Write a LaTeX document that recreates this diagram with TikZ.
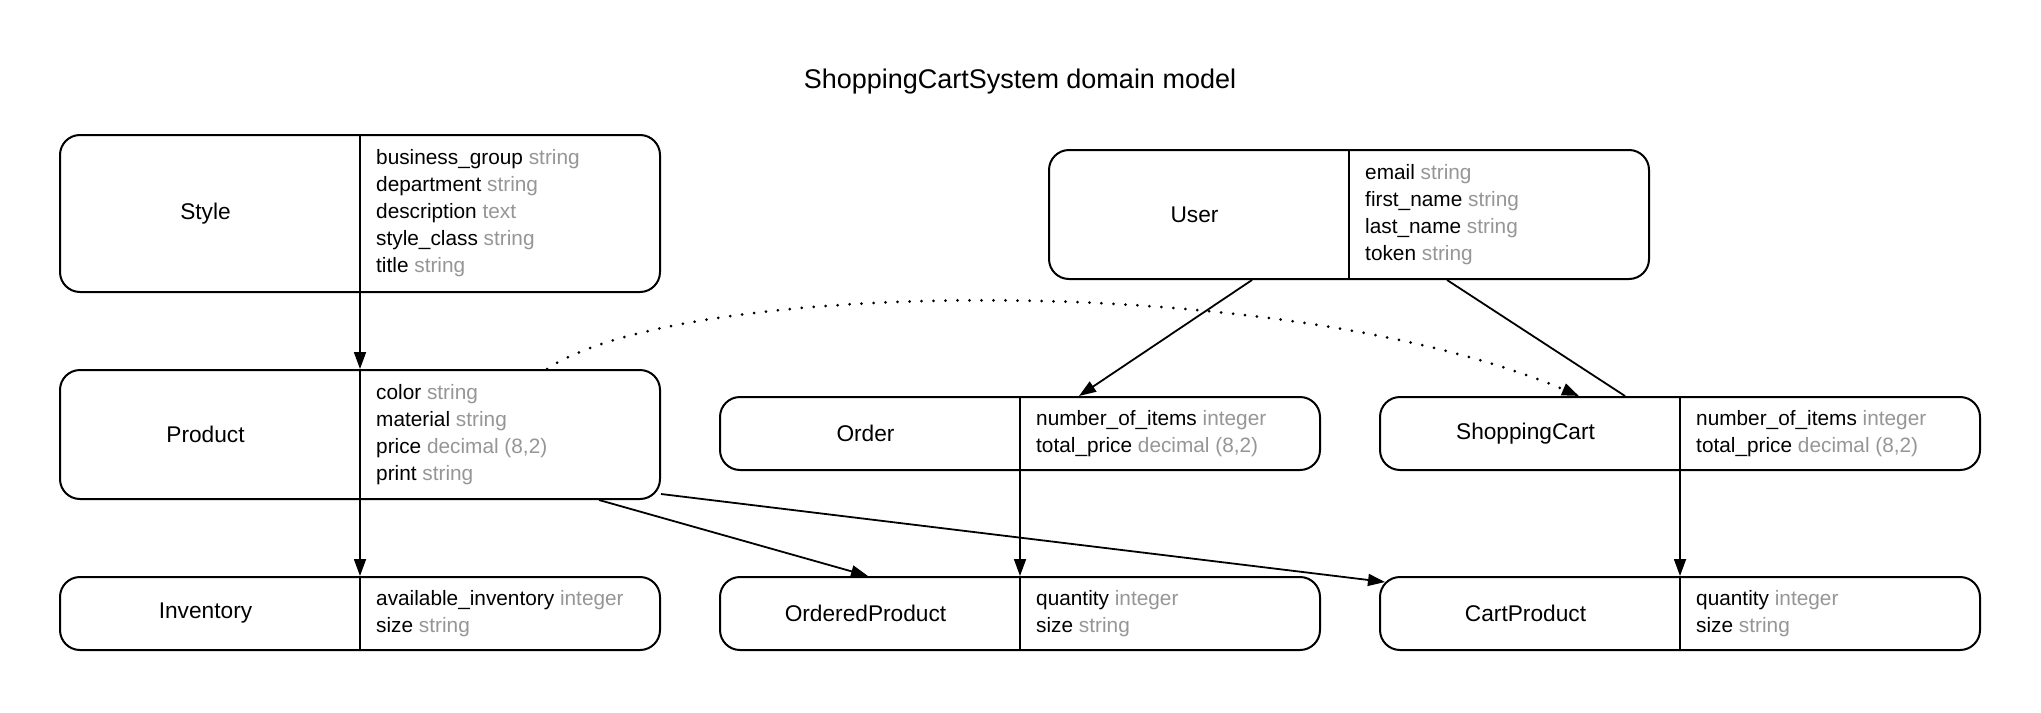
\documentclass[tikz,border=0pt]{standalone}
\usepackage{fontspec}
\setmainfont{Liberation Sans}
\usetikzlibrary{arrows.meta,calc}
\definecolor{typegray}{RGB}{150,150,150}
\newcommand\attr[2]{#1 {\color{typegray}#2}}
\newcommand\umlclass[5]{%
  \node[classbox, minimum height=#3] (#1) at (#2) {};
  \draw[divider] (#1.north) -- (#1.south);
  \node[classname] (#1-name) at ($(#1.west)!0.5!(#1.center)+(-4,0)$) {#4};
  \node[attrs] (#1-attrs) at ($(#1.center)+(16,0)$) {#5};
}
\begin{document}
\begin{tikzpicture}[x=1pt,y=-1pt,
  classbox/.style={draw, rectangle, rounded corners=20pt, line width=2pt, minimum width=600pt, inner sep=0pt},
  divider/.style={line width=1.8pt},
  classname/.style={font=\fontsize{22.7}{27}\selectfont, inner sep=0pt},
  attrs/.style={anchor=west, align=left, inner sep=0pt, font=\fontsize{20.8}{27}\selectfont},
  conn/.style={line width=1.8pt},
  dotconn/.style={line width=3pt, line cap=round, dash pattern=on 0pt off 12pt},
  arr/.style={-{Triangle[length=17pt,width=12pt]}},
  titletext/.style={font=\fontsize{27}{32}\selectfont, inner sep=0pt}]
\useasboundingbox[fill=white] (0,0) rectangle (2041,712);
\node[titletext] (title) at (1020,82) {ShoppingCartSystem domain model};

\umlclass{style}{360,213.5}{157pt}{Style}{\attr{business\_group}{string}\\\attr{department}{string}\\\attr{description}{text}\\\attr{style\_class}{string}\\\attr{title}{string}}
\umlclass{user}{1349,214.5}{129pt}{User}{\attr{email}{string}\\\attr{first\_name}{string}\\\attr{last\_name}{string}\\\attr{token}{string}}
\umlclass{product}{360,434.5}{129pt}{Product}{\attr{color}{string}\\\attr{material}{string}\\\attr{price}{decimal (8,2)}\\\attr{print}{string}}
\umlclass{order}{1020,433.5}{73pt}{Order}{\attr{number\_of\_items}{integer}\\\attr{total\_price}{decimal (8,2)}}
\umlclass{cart}{1680,433.5}{73pt}{ShoppingCart}{\attr{number\_of\_items}{integer}\\\attr{total\_price}{decimal (8,2)}}
\umlclass{inventory}{360,613.5}{73pt}{Inventory}{\attr{available\_inventory}{integer}\\\attr{size}{string}}
\umlclass{orderedproduct}{1020,613.5}{73pt}{OrderedProduct}{\attr{quantity}{integer}\\\attr{size}{string}}
\umlclass{cartproduct}{1680,613.5}{73pt}{CartProduct}{\attr{quantity}{integer}\\\attr{size}{string}}

\draw[conn,arr] (style.south) -- (product.north);
\draw[conn,arr] (product.south) -- (inventory.north);
\draw[conn,arr] (order.south) -- (orderedproduct.north);
\draw[conn,arr] (cart.south) -- (cartproduct.north);

\coordinate (u1) at ($(user.south)+(-97,0)$);
\coordinate (o1) at ($(order.north)+(59,0)$);
\draw[conn,arr] (u1) -- (o1);

\coordinate (u2) at ($(user.south)+(98,0)$);
\coordinate (c2) at ($(cart.north)+(-55,0)$);
\draw[conn] (u2) -- (c2);

\coordinate (p1) at ($(product.north)+(187,0)$);
\coordinate (c1) at ($(cart.north)+(-101,0)$);
\draw[dotconn,arr] (p1) .. controls ($(p1)+(133,-90)$) and ($(c1)+(-299,-127)$) .. (c1);

\coordinate (p2) at ($(product.south)+(239,0)$);
\coordinate (op1) at ($(orderedproduct.north)+(-152,0)$);
\draw[conn,arr] (p2) -- (op1);

\coordinate (p3) at ($(product.south east)+(0,-6)$);
\coordinate (cp1) at ($(cartproduct.north west)+(6,6)$);
\draw[conn,arr] (p3) -- (cp1);
\end{tikzpicture}
\end{document}
